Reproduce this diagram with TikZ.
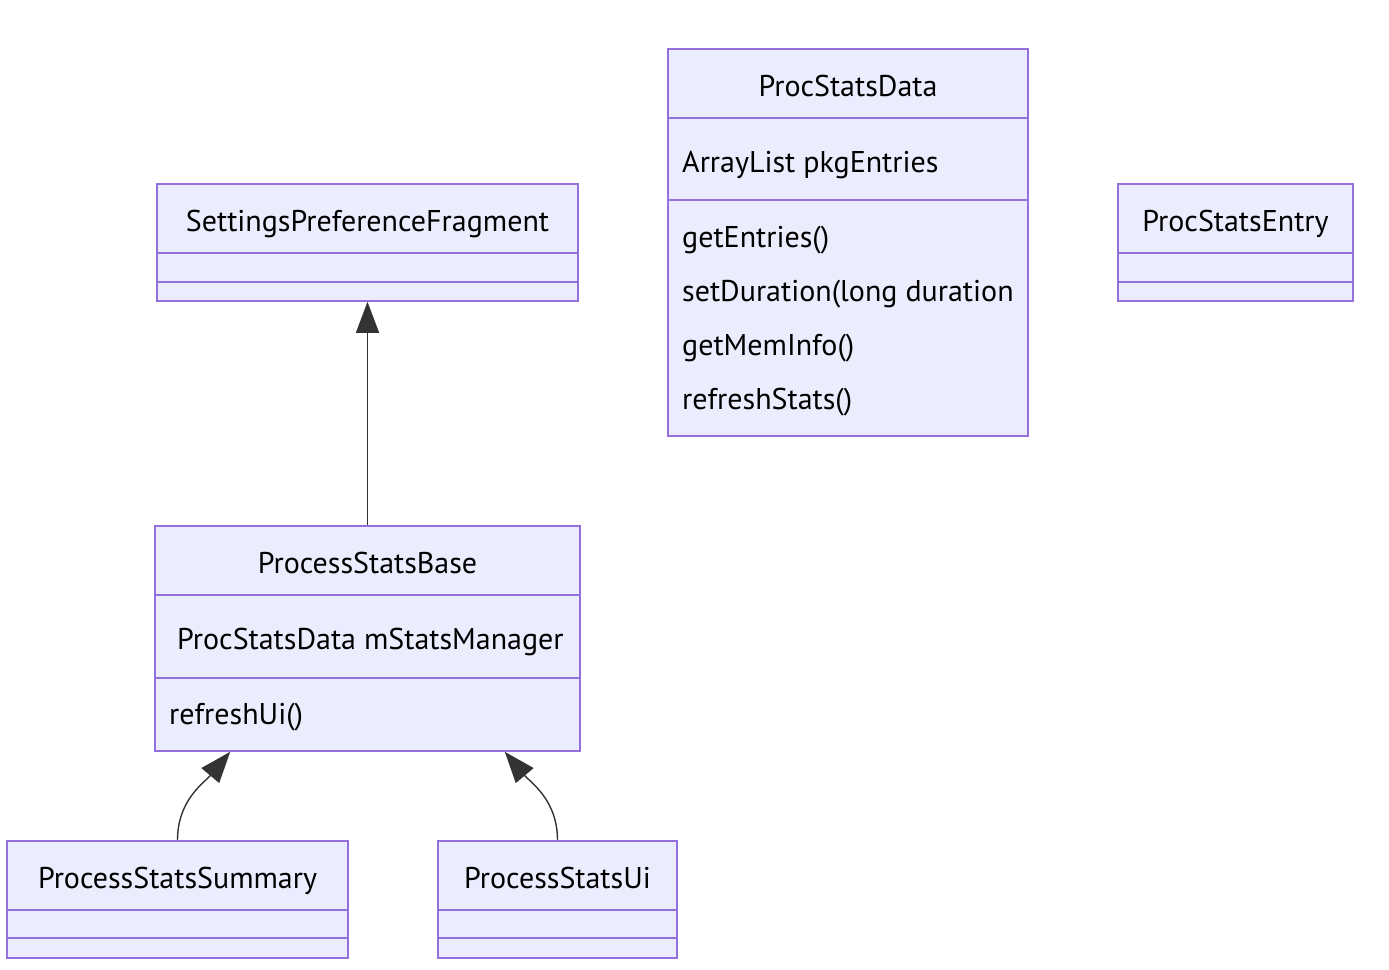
\documentclass[tikz,border=0pt]{standalone}
\usepackage{fontspec}
\setmainfont{PT Sans}
\usetikzlibrary{arrows.meta,calc}
\definecolor{classfill}{HTML}{ECECFF}
\definecolor{classline}{HTML}{9370DB}
\definecolor{edgeline}{HTML}{333333}

\tikzset{
  classbox/.style={draw=classline, fill=classfill, line width=1.6pt, inner sep=0pt},
  divider/.style={draw=classline, line width=1.6pt},
  member/.style={anchor=base west, inner sep=0pt},
  title/.style={anchor=base, inner sep=0pt},
  inherit/.style={draw=edgeline, line width=1.4pt,
    -{Triangle[length=31pt,width=23pt]}}
}

\begin{document}
\begin{tikzpicture}[x=1pt, y=-1pt, font=\fontsize{30}{36}\selectfont]
  \useasboundingbox (0,0) rectangle (1389,969);

  % SettingsPreferenceFragment
  \node[classbox, minimum width=421pt, minimum height=117pt] (spf) at (367.5,242.5) {};
  \draw[divider] (157,253) -- (578,253);
  \draw[divider] (157,282) -- (578,282);
  \node[title] (spftitle) at (367.5,231) {SettingsPreferenceFragment};

  % ProcStatsData
  \node[classbox, minimum width=360pt, minimum height=387pt] (psd) at (848,242.5) {};
  \draw[divider] (668,118) -- (1028,118);
  \draw[divider] (668,200) -- (1028,200);
  \node[title] (psdtitle) at (848,96) {ProcStatsData};
  \node[member] (psdattr) at (682,172) {ArrayList pkgEntries};
  \node[member] (psdm1) at (682,247) {getEntries()};
  \node[member] (psdm2) at (682,301) {setDuration(long duration};
  \node[member] (psdm3) at (682,355) {getMemInfo()};
  \node[member] (psdm4) at (682,409) {refreshStats()};

  % ProcStatsEntry
  \node[classbox, minimum width=235pt, minimum height=117pt] (pse) at (1235.5,242.5) {};
  \draw[divider] (1118,253) -- (1353,253);
  \draw[divider] (1118,282) -- (1353,282);
  \node[title] (psetitle) at (1235.5,231) {ProcStatsEntry};

  % ProcessStatsBase
  \node[classbox, minimum width=425pt, minimum height=225pt] (psb) at (367.5,638.5) {};
  \draw[divider] (155,595) -- (580,595);
  \draw[divider] (155,678) -- (580,678);
  \node[title] (psbtitle) at (367.5,573) {ProcessStatsBase};
  \node[member] (psbattr) at (177,649) {ProcStatsData mStatsManager};
  \node[member] (psbm1) at (169,724) {refreshUi()};

  % ProcessStatsSummary
  \node[classbox, minimum width=341pt, minimum height=117pt] (pss) at (177.5,899.5) {};
  \draw[divider] (7,910) -- (348,910);
  \draw[divider] (7,938) -- (348,938);
  \node[title] (psstitle) at (177.5,888) {ProcessStatsSummary};

  % ProcessStatsUi
  \node[classbox, minimum width=239pt, minimum height=117pt] (psu) at (557.5,899.5) {};
  \draw[divider] (438,910) -- (677,910);
  \draw[divider] (438,938) -- (677,938);
  \node[title] (psutitle) at (557.5,888) {ProcessStatsUi};

  % inheritance
  \draw[inherit] (psb.north) -- (spf.south);
  \draw[inherit] (pss.north) to[out=90, in=-130] ($(psb.south west)+(76,0)$);
  \draw[inherit] (psu.north) to[out=90, in=-50] ($(psb.south east)+(-76,0)$);
\end{tikzpicture}
\end{document}
